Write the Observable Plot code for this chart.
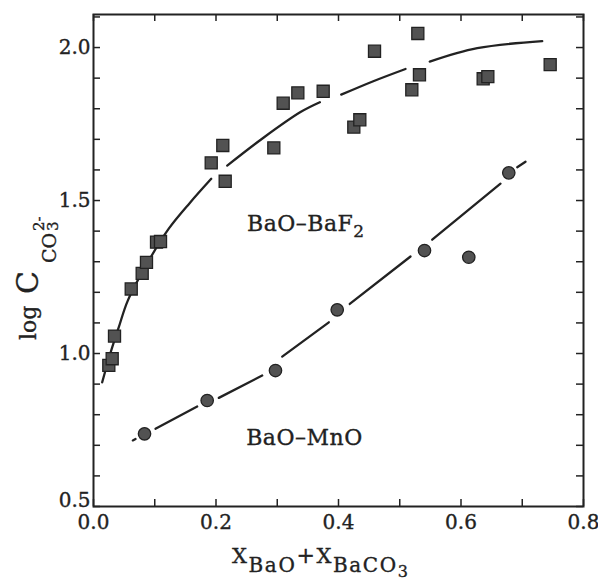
<!DOCTYPE html>
<html>
<head>
<meta charset="utf-8">
<script src="https://cdn.jsdelivr.net/npm/d3@7"></script>
<script src="https://cdn.jsdelivr.net/npm/@observablehq/plot@0.6"></script>
<style>
  html, body { margin: 0; padding: 0; background: #fff; }
  #chart svg { display: block; }
  #chart svg text { stroke: #222; stroke-width: 0.35px; }
</style>
</head>
<body>
<div id="chart"></div>
<script>
// Carbonate capacity, log C(CO3 2-), against X_BaO + X_BaCO3

// BaO–BaF2 melts (squares)
const baf2X = [0.025, 0.0305, 0.0343, 0.0616, 0.0795, 0.0865, 0.1029, 0.1094, 0.1922, 0.2111, 0.215, 0.2944,
               0.3097, 0.3336, 0.375, 0.425, 0.4348, 0.4588, 0.5197, 0.5295, 0.5322, 0.6362, 0.6438, 0.7456];
const baf2Y = [0.961, 0.983, 1.057, 1.211, 1.262, 1.298, 1.364, 1.366, 1.623, 1.680, 1.563, 1.672,
               1.818, 1.852, 1.857, 1.740, 1.764, 1.988, 1.862, 2.046, 1.911, 1.898, 1.905, 1.944];

// BaO–MnO melts (circles)
const mnoX = [0.0833, 0.1856, 0.2971, 0.3979, 0.5404, 0.6127, 0.678];
const mnoY = [0.7376, 0.8464, 0.9444, 1.1428, 1.3366, 1.3147, 1.5905];

// Hand-drawn trend curves, broken into dashes (seg = dash number)
const baf2CurveX = [0.0142, 0.0282, 0.0413, 0.056, 0.0895, 0.1229, 0.1576, 0.1922,
                    0.2183, 0.278, 0.338, 0.3695,
                    0.4044, 0.4568, 0.5094,
                    0.549, 0.6265, 0.7326];
const baf2CurveY = [0.906, 1.005, 1.086, 1.173, 1.301, 1.408, 1.493, 1.571,
                    1.614, 1.706, 1.789, 1.821,
                    1.846, 1.890, 1.930,
                    1.954, 1.998, 2.021];
const baf2CurveSeg = [0, 0, 0, 0, 0, 0, 0, 0, 1, 1, 1, 1, 2, 2, 2, 3, 3, 3];

const mnoCurveX = [0.0642, 0.0686, 0.1012, 0.1693, 0.2046, 0.2754, 0.3081, 0.3842,
                   0.4184, 0.5176, 0.553, 0.6645, 0.6918, 0.7053];
const mnoCurveY = [0.716, 0.7206, 0.754, 0.827, 0.855, 0.928, 0.990, 1.102,
                   1.162, 1.317, 1.372, 1.555, 1.609, 1.627];
const mnoCurveSeg = [0, 0, 1, 1, 2, 2, 3, 3, 4, 4, 5, 5, 6, 6];

// Axis ticks
const xTicks = [0, 0.1, 0.2, 0.3, 0.4, 0.5, 0.6, 0.7, 0.8];
const xTickLabels = [0, 0.2, 0.4, 0.6, 0.8];
const yTicks = [0.5, 0.6, 0.7, 0.8, 0.9, 1.0, 1.1, 1.2, 1.3, 1.4, 1.5, 1.6, 1.7, 1.8, 1.9, 2.0, 2.1];
const yTickLabels = [0.5, 1.0, 1.5, 2.0];

const toRows = (xs, ys, segs) => xs.map((x, i) => ({x, y: ys[i], seg: segs ? segs[i] : 0}));
const baf2 = toRows(baf2X, baf2Y);
const mno = toRows(mnoX, mnoY);
const baf2Curve = toRows(baf2CurveX, baf2CurveY, baf2CurveSeg);
const mnoCurve = toRows(mnoCurveX, mnoCurveY, mnoCurveSeg);

const ink = "#222";
const markFill = "#525252";
const serif = "DejaVu Serif, serif";

const W = 598, H = 580;
const mL = 93, mR = 15, mT = 14, mB = 74;
const innerW = W - mL - mR, innerH = H - mT - mB;
const tickLen = 7;

const plot = Plot.plot({
  width: W,
  height: H,
  marginLeft: mL,
  marginRight: mR,
  marginTop: mT,
  marginBottom: mB,
  style: {fontFamily: serif, fontSize: "20px", color: ink, background: "#fff"},
  x: {domain: [0, 0.8]},
  y: {domain: [0.5, 2.108]},
  marks: [
    // inward ticks on all four sides
    Plot.tickX(xTicks, {x: d => d, insetTop: innerH - tickLen, stroke: ink, strokeWidth: 1.5}),
    Plot.tickX(xTicks, {x: d => d, insetBottom: innerH - tickLen, stroke: ink, strokeWidth: 1.5}),
    Plot.tickY(yTicks, {y: d => d, insetRight: innerW - tickLen, stroke: ink, strokeWidth: 1.5}),
    Plot.tickY(yTicks, {y: d => d, insetLeft: innerW - tickLen, stroke: ink, strokeWidth: 1.5}),
    // tick labels
    Plot.axisX(xTickLabels, {anchor: "bottom", tickSize: 0, tickPadding: 8, label: null,
      tickFormat: d => d.toFixed(1)}),
    Plot.axisY(yTickLabels.filter(d => d > 0.5), {anchor: "left", tickSize: 0, tickPadding: 3, label: null,
      tickFormat: d => d.toFixed(1)}),
    Plot.axisY(yTickLabels.filter(d => d === 0.5), {anchor: "left", tickSize: 0, tickPadding: 3, dy: -6, label: null,
      tickFormat: d => d.toFixed(1)}),
    Plot.frame({stroke: ink, strokeWidth: 2}),
    // trend curves, drawn as long dashes
    Plot.line(baf2Curve, {x: "x", y: "y", z: "seg", curve: "catmull-rom", stroke: ink, strokeWidth: 2.3}),
    Plot.line(mnoCurve, {x: "x", y: "y", z: "seg", curve: "catmull-rom", stroke: ink, strokeWidth: 2.3}),
    // measurements
    Plot.dot(baf2, {x: "x", y: "y", symbol: "square", r: 6.8, fill: markFill, stroke: ink, strokeWidth: 1.3}),
    Plot.dot(mno, {x: "x", y: "y", symbol: "circle", r: 6.2, fill: markFill, stroke: ink, strokeWidth: 1.3})
  ]
});

document.getElementById("chart").appendChild(plot);

const svg = d3.select(plot);
const sx = plot.scale("x"), sy = plot.scale("y");

// text with sub/superscript runs: each part is [text, fontSize, dy]
function richText(parent, x, y, parts) {
  const t = parent.append("text")
    .attr("x", x).attr("y", y)
    .attr("text-anchor", "start")
    .attr("font-family", serif)
    .attr("fill", ink);
  for (const [txt, size, dy] of parts) {
    const s = t.append("tspan").attr("font-size", size).text(txt);
    if (dy) s.attr("dy", dy);
  }
  return t;
}

// series labels
richText(svg, sx.apply(0.2514), sy.apply(1.399), [["BaO–BaF", 22], ["2", 17, 6]]).attr("letter-spacing", 0.5);
richText(svg, sx.apply(0.25), sy.apply(0.699), [["BaO–MnO", 22]]).attr("letter-spacing", 0.5);

// x-axis title: X_BaO + X_BaCO3
richText(svg, 232, 563, [
  ["X", 21], ["BaO", 20, 9], ["+", 22, -9], ["X", 21], ["BaCO", 20, 9], ["3", 16, 5]
]).attr("letter-spacing", 1.6);

// y-axis title: log C_{CO3^{2-}}, rotated
const yt = svg.append("g").attr("transform", "translate(36,342) rotate(-90)");
richText(yt, 2, 0, [["log", 22]]);
richText(yt, 48, 2, [["C", 30]]);
richText(yt, 79, 20, [["CO", 19]]);
richText(yt, 111, 22, [["3", 15]]);
richText(yt, 111, 8, [["2-", 15]]);
</script>
</body>
</html>
